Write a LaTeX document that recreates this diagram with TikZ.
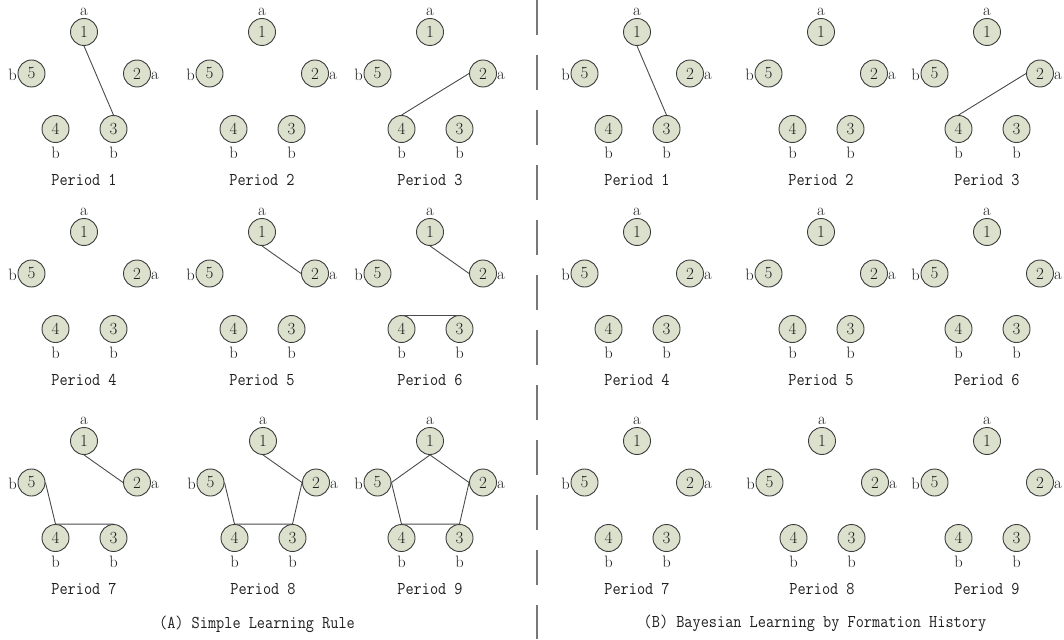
\documentclass[tikz,border=0pt]{standalone}
\usepackage{fontspec}
\newfontfamily\capfont[FakeStretch=0.88]{Latin Modern Mono}
\definecolor{nodefill}{RGB}{220,225,205}
\definecolor{nodeline}{RGB}{60,60,60}
\definecolor{edgecol}{RGB}{75,75,75}
\definecolor{txtcol}{RGB}{30,30,30}
\definecolor{divcol}{RGB}{120,120,120}
\tikzset{
  vtx/.style={circle, draw=nodeline, fill=nodefill, line width=0.9pt,
    minimum size=27pt, inner sep=0pt, text=txtcol,
    font=\fontsize{17}{20}\selectfont},
  lbl/.style={inner sep=0pt, text=txtcol, font=\fontsize{16.5}{19}\selectfont},
  per/.style={inner sep=0pt, text=txtcol, font=\capfont\fontsize{18}{20}\selectfont},
  edge/.style={draw=edgecol, line width=0.9pt},
  divider/.style={draw=divcol, line width=1.3pt, dash pattern=on 35pt off 20pt}
}
\newcommand\mypanel[4]{%
  \node[vtx] (#1-1) at (#2,#3) {1};
  \node[vtx] (#1-5) at ({#2-52.5},{#3+41.5}) {5};
  \node[vtx] (#1-2) at ({#2+53},{#3+41.5}) {2};
  \node[vtx] (#1-4) at ({#2-28.5},{#3+97}) {4};
  \node[vtx] (#1-3) at ({#2+29.5},{#3+97}) {3};
  \node[lbl] (#1-la1) at (#2,{#3-20}) {a};
  \node[lbl] (#1-lb5) at ({#2-71.5},{#3+42.5}) {b};
  \node[lbl] (#1-la2) at ({#2+71},{#3+43.5}) {a};
  \node[lbl] (#1-lb4) at ({#2-28.5},{#3+121}) {b};
  \node[lbl] (#1-lb3) at ({#2+29.5},{#3+121}) {b};
  \node[per, anchor=base] (#1-per) at (#2,{#3+153}) {Period #4};
}
\begin{document}
\begin{tikzpicture}[x=1pt, y=-1pt]
\useasboundingbox (0,0) rectangle (1064,639);
% left half
\mypanel{L1}{84}{32}{1}
\mypanel{L2}{262}{32}{2}
\mypanel{L3}{430}{32}{3}
\mypanel{L4}{84}{232}{4}
\mypanel{L5}{262}{232}{5}
\mypanel{L6}{430}{232}{6}
\mypanel{L7}{84}{441}{7}
\mypanel{L8}{263}{441}{8}
\mypanel{L9}{430}{441}{9}
% right half
\mypanel{R1}{637}{32}{1}
\mypanel{R2}{821}{32}{2}
\mypanel{R3}{987}{32}{3}
\mypanel{R4}{637}{232}{4}
\mypanel{R5}{821}{232}{5}
\mypanel{R6}{987}{232}{6}
\mypanel{R7}{637}{441}{7}
\mypanel{R8}{822}{441}{8}
\mypanel{R9}{987}{441}{9}
% edges
\draw[edge] (L1-1.south) -- (L1-3.north);
\draw[edge] (L3-2.west) -- (L3-4.north);
\draw[edge] (L5-1.south) -- (L5-2.west);
\draw[edge] (L6-1.south) -- (L6-2.west);
\draw[edge] (L6-4.north) -- (L6-3.north);
\draw[edge] (L7-1.south) -- (L7-2.west);
\draw[edge] (L7-5.east) -- (L7-4.north) -- (L7-3.north);
\draw[edge] (L8-1.south) -- (L8-2.west);
\draw[edge] (L8-5.east) -- (L8-4.north) -- (L8-3.north) -- (L8-2.west);
\draw[edge] (L9-2.west) -- (L9-1.south) -- (L9-5.east) -- (L9-4.north) -- (L9-3.north) -- (L9-2.west);
\draw[edge] (R1-1.south) -- (R1-3.north);
\draw[edge] (R3-2.west) -- (R3-4.north);
% divider
\coordinate (dtop) at (537,0);
\coordinate (dbot) at (537,639);
\draw[divider] (dtop) -- (dbot);
% captions
\node[per, anchor=base] (capA) at (257,628) {(A) Simple Learning Rule};
\node[per, anchor=base] (capB) at (815,627) {(B) Bayesian Learning by Formation History};
\end{tikzpicture}
\end{document}
